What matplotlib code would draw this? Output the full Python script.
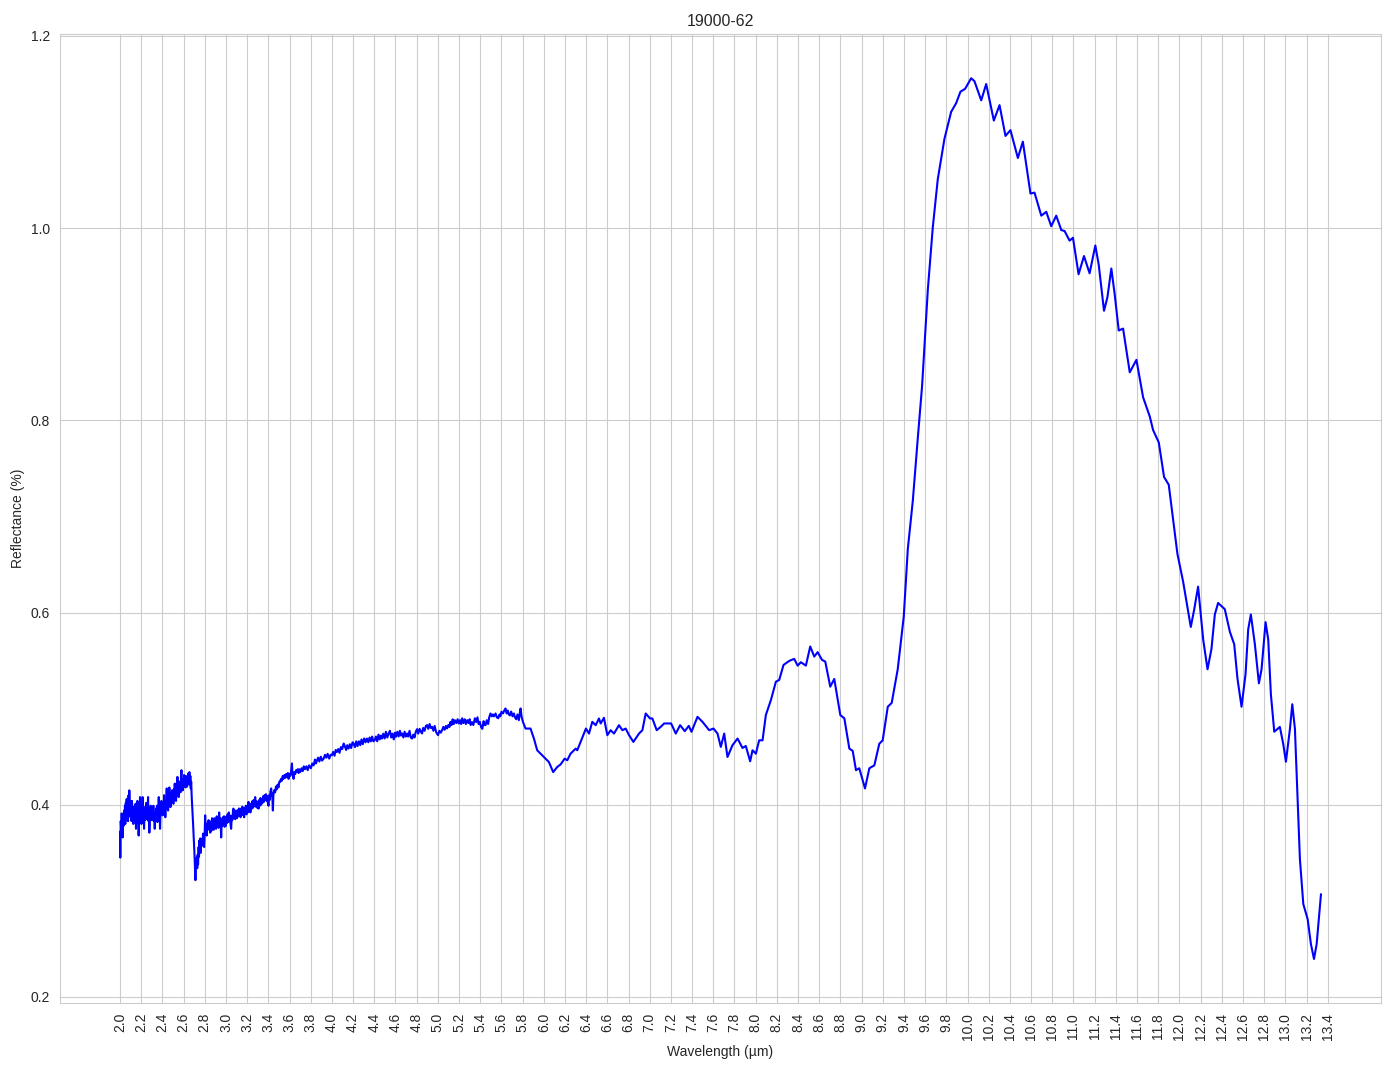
import numpy as np
import matplotlib
matplotlib.use("Agg")
import matplotlib.pyplot as plt
import seaborn as sns

# spectrum: wavelength in um, reflectance
# noisy short-wave part (2.0 - 3.7 um)
wl_noisy = [
    2.000, 2.003, 2.007, 2.012, 2.016, 2.020, 2.025, 2.030, 2.034, 2.038,
    2.043, 2.047, 2.050, 2.055, 2.059, 2.063, 2.068, 2.072, 2.076, 2.081,
    2.085, 2.088, 2.093, 2.097, 2.101, 2.105, 2.109, 2.113, 2.118, 2.122,
    2.126, 2.130, 2.135, 2.139, 2.143, 2.147, 2.151, 2.156, 2.160, 2.164,
    2.168, 2.172, 2.176, 2.181, 2.185, 2.189, 2.193, 2.197, 2.202, 2.206,
    2.210, 2.214, 2.218, 2.223, 2.227, 2.231, 2.235, 2.239, 2.243, 2.248,
    2.252, 2.256, 2.260, 2.265, 2.269, 2.273, 2.277, 2.282, 2.286, 2.290,
    2.294, 2.298, 2.302, 2.307, 2.311, 2.315, 2.319, 2.323, 2.328, 2.332,
    2.336, 2.340, 2.344, 2.349, 2.353, 2.357, 2.361, 2.366, 2.370, 2.374,
    2.378, 2.383, 2.387, 2.391, 2.395, 2.399, 2.403, 2.408, 2.412, 2.416,
    2.420, 2.424, 2.428, 2.433, 2.437, 2.441, 2.445, 2.450, 2.454, 2.458,
    2.462, 2.466, 2.471, 2.475, 2.479, 2.483, 2.487, 2.491, 2.496, 2.500,
    2.504, 2.508, 2.513, 2.517, 2.521, 2.525, 2.529, 2.534, 2.538, 2.542,
    2.546, 2.550, 2.554, 2.559, 2.563, 2.567, 2.571, 2.576, 2.580, 2.584,
    2.588, 2.592, 2.597, 2.601, 2.605, 2.609, 2.613, 2.618, 2.622, 2.626,
    2.630, 2.634, 2.639, 2.643, 2.647, 2.651, 2.655, 2.660, 2.664, 2.668,
    2.672, 2.677, 2.690, 2.703, 2.712, 2.716, 2.720, 2.725, 2.729, 2.733,
    2.737, 2.742, 2.746, 2.750, 2.754, 2.758, 2.762, 2.767, 2.771, 2.775,
    2.779, 2.784, 2.788, 2.794,
    2.800, 2.804, 2.808, 2.813, 2.819, 2.825, 2.830, 2.836, 2.841, 2.847,
    2.852, 2.858, 2.863, 2.869, 2.874, 2.880, 2.885, 2.891, 2.896, 2.902,
    2.907, 2.913, 2.918, 2.924, 2.930, 2.936, 2.941, 2.947, 2.952, 2.955,
    2.960, 2.966, 2.971, 2.977, 2.982, 2.988, 2.993, 2.999, 3.005, 3.010,
    3.016, 3.021, 3.027, 3.032, 3.038, 3.043, 3.049, 3.055, 3.060, 3.066,
    3.071, 3.077, 3.083, 3.088, 3.094, 3.099, 3.105, 3.110, 3.116, 3.122,
    3.127, 3.133, 3.138, 3.144, 3.150, 3.155, 3.161, 3.166, 3.172, 3.178,
    3.183, 3.189, 3.194, 3.200, 3.206, 3.213, 3.219, 3.225, 3.231, 3.237,
    3.245, 3.251, 3.257, 3.263, 3.270, 3.276, 3.282, 3.288, 3.294, 3.300,
    3.308, 3.314, 3.320, 3.326, 3.332, 3.339, 3.345, 3.352, 3.358, 3.365,
    3.371, 3.378, 3.384, 3.390, 3.396, 3.402, 3.408, 3.414, 3.420, 3.427,
    3.432, 3.437, 3.443, 3.448, 3.455, 3.465, 3.472, 3.480, 3.488, 3.496,
    3.504, 3.512, 3.520, 3.528, 3.536, 3.544, 3.553, 3.561, 3.569, 3.577,
    3.585, 3.591, 3.600, 3.608, 3.616, 3.623, 3.628, 3.638, 3.646, 3.654,
    3.662, 3.670, 3.678, 3.686, 3.694,
]
refl_noisy = [
    0.372, 0.345, 0.383, 0.372, 0.391, 0.376, 0.366, 0.388, 0.378, 0.394,
    0.381, 0.399, 0.380, 0.402, 0.388, 0.406, 0.384, 0.398, 0.383, 0.410,
    0.392, 0.415, 0.389, 0.404, 0.387, 0.401, 0.383, 0.404, 0.390, 0.398,
    0.380, 0.393, 0.384, 0.398, 0.386, 0.401, 0.375, 0.392, 0.381, 0.404,
    0.384, 0.396, 0.368, 0.389, 0.393, 0.408, 0.386, 0.399, 0.380, 0.395,
    0.388, 0.408, 0.385, 0.395, 0.375, 0.391, 0.384, 0.398, 0.389, 0.402,
    0.385, 0.396, 0.389, 0.408, 0.383, 0.394, 0.371, 0.387, 0.392, 0.399,
    0.386, 0.394, 0.384, 0.397, 0.388, 0.399, 0.383, 0.392, 0.375, 0.390,
    0.386, 0.396, 0.389, 0.399, 0.382, 0.394, 0.390, 0.408, 0.386, 0.396,
    0.375, 0.392, 0.395, 0.404, 0.391, 0.400, 0.389, 0.403, 0.394, 0.410,
    0.392, 0.401, 0.387, 0.405, 0.397, 0.417, 0.396, 0.406, 0.394, 0.410,
    0.400, 0.418, 0.398, 0.408, 0.398, 0.412, 0.403, 0.415, 0.402, 0.411,
    0.401, 0.416, 0.406, 0.422, 0.405, 0.414, 0.404, 0.420, 0.411, 0.429,
    0.409, 0.418, 0.408, 0.424, 0.414, 0.422, 0.413, 0.428, 0.436, 0.420,
    0.426, 0.415, 0.427, 0.419, 0.431, 0.421, 0.428, 0.418, 0.430, 0.424,
    0.429, 0.419, 0.427, 0.422, 0.433, 0.426, 0.434, 0.421, 0.430, 0.417,
    0.424, 0.408, 0.380, 0.3487, 0.3215, 0.336, 0.342, 0.345, 0.334, 0.348,
    0.338, 0.356, 0.346, 0.363, 0.352, 0.365, 0.350, 0.361, 0.357, 0.364,
    0.358, 0.370, 0.362, 0.356,
    0.372, 0.389, 0.370, 0.378, 0.368, 0.381, 0.374, 0.384, 0.376, 0.383,
    0.371, 0.380, 0.373, 0.386, 0.377, 0.382, 0.374, 0.386, 0.378, 0.384,
    0.375, 0.388, 0.379, 0.385, 0.376, 0.392, 0.380, 0.386, 0.375, 0.366,
    0.381, 0.378, 0.387, 0.380, 0.388, 0.377, 0.385, 0.378, 0.388, 0.381,
    0.390, 0.382, 0.392, 0.383, 0.389, 0.380, 0.375, 0.388, 0.384, 0.393,
    0.396, 0.386, 0.392, 0.385, 0.394, 0.387, 0.386, 0.394, 0.388, 0.396,
    0.389, 0.396, 0.387, 0.393, 0.389, 0.398, 0.390, 0.394, 0.387, 0.397,
    0.392, 0.399, 0.390, 0.398, 0.392, 0.403, 0.394, 0.400, 0.392, 0.401,
    0.396, 0.404, 0.397, 0.405, 0.399, 0.408, 0.398, 0.404, 0.397, 0.401,
    0.396, 0.405, 0.399, 0.407, 0.400, 0.406, 0.402, 0.409, 0.403, 0.410,
    0.405, 0.411, 0.404, 0.409, 0.402, 0.399, 0.410, 0.405, 0.414, 0.417,
    0.409, 0.412, 0.394, 0.410, 0.415, 0.413, 0.419, 0.416, 0.421, 0.418,
    0.424, 0.424, 0.427, 0.425, 0.430, 0.427, 0.431, 0.428, 0.432, 0.429,
    0.433, 0.427, 0.432, 0.430, 0.436, 0.443, 0.433, 0.427, 0.434, 0.432,
    0.436, 0.434, 0.437, 0.433, 0.437,
]

# mid range (3.7 - 8.8 um)
wl_mid = [
    3.701, 3.715, 3.725, 3.735, 3.748, 3.760, 3.772, 3.785, 3.802, 3.815,
    3.828, 3.840, 3.850, 3.859, 3.870, 3.882, 3.895, 3.908, 3.922, 3.935,
    3.948, 3.960, 3.975, 3.988, 4.000, 4.012, 4.025, 4.036, 4.048, 4.060,
    4.072, 4.085, 4.098, 4.111, 4.122, 4.135, 4.145, 4.158, 4.170, 4.182,
    4.195, 4.205, 4.218, 4.230, 4.242, 4.255, 4.268, 4.280, 4.292, 4.305,
    4.318, 4.331, 4.344, 4.356, 4.368, 4.380, 4.392, 4.404, 4.416, 4.428,
    4.440, 4.452, 4.463, 4.473, 4.485, 4.498, 4.510, 4.523, 4.536, 4.548,
    4.560, 4.572, 4.584, 4.595, 4.605, 4.618, 4.630, 4.642, 4.652, 4.662,
    4.675, 4.686, 4.698, 4.709, 4.720, 4.733, 4.745, 4.757, 4.768, 4.780,
    4.792, 4.804, 4.815, 4.828, 4.840, 4.851, 4.862, 4.875, 4.887, 4.898,
    4.910, 4.922, 4.934, 4.946, 4.958, 4.970, 4.983, 4.992, 5.002, 5.015,
    5.028, 5.040, 5.052, 5.064, 5.076, 5.087, 5.100, 5.110,
    5.119, 5.130, 5.140, 5.150, 5.160, 5.175, 5.187, 5.198, 5.210, 5.220,
    5.230, 5.242, 5.255, 5.265, 5.277, 5.290, 5.300, 5.310, 5.322, 5.335,
    5.350, 5.362, 5.374, 5.385, 5.396, 5.408, 5.420, 5.432, 5.442, 5.450,
    5.462, 5.475, 5.485, 5.497, 5.510, 5.520, 5.530, 5.545, 5.557, 5.570,
    5.582, 5.590, 5.601, 5.615, 5.627, 5.639, 5.650, 5.660, 5.670, 5.680,
    5.692, 5.705, 5.718, 5.728, 5.740, 5.752, 5.765, 5.772, 5.781, 5.790,
    5.803, 5.828, 5.875, 5.907, 5.938, 6.001, 6.048, 6.089, 6.127, 6.159,
    6.197, 6.222, 6.253, 6.301, 6.316, 6.348, 6.398, 6.427, 6.458, 6.490,
    6.521, 6.537, 6.568, 6.600, 6.631, 6.663, 6.710, 6.742, 6.773, 6.805,
    6.846, 6.899, 6.931, 6.962, 7.003, 7.025, 7.066, 7.104, 7.136, 7.202,
    7.246, 7.287, 7.331, 7.369, 7.394, 7.451, 7.498, 7.561, 7.602, 7.640,
    7.671, 7.703, 7.734, 7.781, 7.829, 7.876, 7.907, 7.948, 7.970, 8.002,
    8.033, 8.065, 8.096, 8.144, 8.191, 8.222, 8.263, 8.317, 8.364, 8.396,
    8.427, 8.474, 8.515, 8.553, 8.585, 8.626, 8.657, 8.704, 8.742, 8.799,
]
refl_mid = [
    0.434, 0.438, 0.435, 0.440, 0.437, 0.440, 0.436, 0.441, 0.438, 0.443,
    0.441, 0.447, 0.443, 0.446, 0.449, 0.445, 0.450, 0.446, 0.448, 0.452,
    0.449, 0.453, 0.448, 0.452, 0.4515, 0.455, 0.451, 0.457, 0.455, 0.458,
    0.454, 0.460, 0.458, 0.4637, 0.461, 0.457, 0.462, 0.4585, 0.463, 0.459,
    0.465, 0.4637, 0.460, 0.466, 0.461, 0.466, 0.462, 0.468, 0.463, 0.469,
    0.465, 0.4689, 0.465, 0.470, 0.466, 0.471, 0.466, 0.4672, 0.471, 0.466,
    0.473, 0.468, 0.472, 0.4689, 0.474, 0.469, 0.476, 0.470, 0.4742, 0.477,
    0.470, 0.474, 0.468, 0.475, 0.4707, 0.476, 0.471, 0.477, 0.472, 0.4742,
    0.470, 0.476, 0.471, 0.4742, 0.471, 0.477, 0.470, 0.4689, 0.473, 0.470,
    0.476, 0.4787, 0.474, 0.479, 0.476, 0.4742, 0.480, 0.477, 0.482, 0.4829,
    0.479, 0.484, 0.480, 0.4811, 0.477, 0.482, 0.476, 0.474, 0.4724, 0.477,
    0.475, 0.4776, 0.481, 0.478, 0.482, 0.4794, 0.483, 0.481,
    0.4863, 0.483, 0.489, 0.484, 0.488, 0.485, 0.489, 0.4846, 0.488, 0.484,
    0.490, 0.485, 0.489, 0.484, 0.488, 0.485, 0.489, 0.483, 0.486, 0.483,
    0.490, 0.486, 0.491, 0.484, 0.4863, 0.481, 0.479, 0.487, 0.483, 0.4828,
    0.488, 0.484, 0.491, 0.495, 0.492, 0.494, 0.492, 0.495, 0.491, 0.490,
    0.494, 0.492, 0.4968, 0.495, 0.498, 0.5002, 0.495, 0.498, 0.494, 0.493,
    0.497, 0.492, 0.495, 0.491, 0.489, 0.494, 0.488, 0.494, 0.5002, 0.492,
    0.4863, 0.4793, 0.4793, 0.4689, 0.4567, 0.4497, 0.4445, 0.434, 0.4393, 0.442,
    0.448, 0.4463, 0.4532, 0.4584, 0.4567, 0.4654, 0.4793, 0.4741, 0.4863, 0.4828,
    0.4898, 0.4846, 0.4905, 0.4724, 0.4776, 0.4741, 0.4828, 0.4776, 0.4793, 0.4724,
    0.4654, 0.4741, 0.4776, 0.495, 0.4898, 0.4898, 0.4776, 0.4811, 0.4846, 0.4846,
    0.4741, 0.4828, 0.4766, 0.4821, 0.4759, 0.4915, 0.4863, 0.4776, 0.4793, 0.4741,
    0.4602, 0.4741, 0.4497, 0.4619, 0.4689, 0.4591, 0.4612, 0.4452, 0.4567, 0.4532,
    0.4671, 0.4671, 0.4933, 0.509, 0.5281, 0.5298, 0.5455, 0.5497, 0.5518, 0.5448,
    0.5483, 0.5448, 0.5647, 0.5542, 0.5588, 0.5508, 0.549, 0.5229, 0.5309, 0.4933,
]

# long-wave part (8.8 - 13.35 um)
wl_long = [
    8.837, 8.884, 8.916, 8.947, 8.978, 9.032, 9.073, 9.120, 9.167, 9.199,
    9.247, 9.284, 9.341, 9.398, 9.436, 9.483, 9.530, 9.571, 9.625, 9.672,
    9.719, 9.782, 9.845, 9.892, 9.933, 9.977, 10.034, 10.065, 10.129, 10.176,
    10.248, 10.302, 10.358, 10.405, 10.475, 10.522, 10.594, 10.632, 10.696, 10.743,
    10.790, 10.837, 10.885, 10.916, 10.963, 10.995, 11.048, 11.099,
    11.152, 11.206, 11.238, 11.288, 11.320, 11.357, 11.389, 11.427, 11.468, 11.531,
    11.594, 11.657, 11.720, 11.751, 11.805, 11.855, 11.899, 11.940, 11.981, 12.035,
    12.107, 12.139, 12.176, 12.224, 12.265, 12.302, 12.334, 12.365, 12.428, 12.476,
    12.517, 12.548, 12.586, 12.624, 12.649, 12.674, 12.712, 12.750, 12.775, 12.813,
    12.838, 12.863, 12.895, 12.948, 12.980, 13.005, 13.043, 13.065, 13.090, 13.115,
    13.137, 13.169, 13.210, 13.241, 13.270, 13.295, 13.336,
]
refl_long = [
    0.490, 0.4585, 0.456, 0.436, 0.438, 0.417, 0.438, 0.441, 0.4635, 0.467,
    0.502, 0.506, 0.541, 0.596, 0.666, 0.716, 0.781, 0.836, 0.936, 1.001,
    1.051, 1.093, 1.121, 1.130, 1.142, 1.145, 1.156, 1.153, 1.133, 1.150,
    1.112, 1.128, 1.096, 1.102, 1.073, 1.090, 1.036, 1.037, 1.013, 1.017,
    1.002, 1.013, 0.998, 0.997, 0.987, 0.990, 0.952, 0.971,
    0.953, 0.982, 0.962, 0.914, 0.928, 0.958, 0.931, 0.8935, 0.8955, 0.850,
    0.863, 0.824, 0.804, 0.790, 0.777, 0.741, 0.733, 0.697, 0.661, 0.632,
    0.585, 0.603, 0.627, 0.572, 0.541, 0.562, 0.598, 0.610, 0.6035, 0.580,
    0.567, 0.531, 0.502, 0.536, 0.5825, 0.598, 0.567, 0.5264, 0.541, 0.590,
    0.572, 0.515, 0.476, 0.481, 0.463, 0.4448, 0.479, 0.5046, 0.479, 0.406,
    0.3435, 0.2967, 0.281, 0.255, 0.2395, 0.255, 0.307,
]

sample_name = "19000-62"
xtick_values = np.round(np.arange(2.0, 13.41, 0.2), 1)

wavelength = wl_noisy + wl_mid + wl_long
reflectance = refl_noisy + refl_mid + refl_long

sns.set_style("whitegrid")
plt.rcParams['font.family'] = ['Liberation Sans', 'DejaVu Sans']

fig, ax = plt.subplots(figsize=(13.94, 10.69), dpi=100)
fig.subplots_adjust(left=0.043, right=0.9907, top=0.968, bottom=0.0617)

ax.plot(wavelength, reflectance, color='blue', linewidth=1.5)

ax.set_xticks(xtick_values)
ax.set_xticklabels([f"{v:.1f}" for v in xtick_values], rotation=90)
ax.tick_params(labelsize=10)
ax.set_title(sample_name, fontsize=11.5)
ax.set_xlabel("Wavelength (µm)", fontsize=10)
ax.set_ylabel("Reflectance (%)", fontsize=10)

fig.savefig("out.png", dpi=100)
